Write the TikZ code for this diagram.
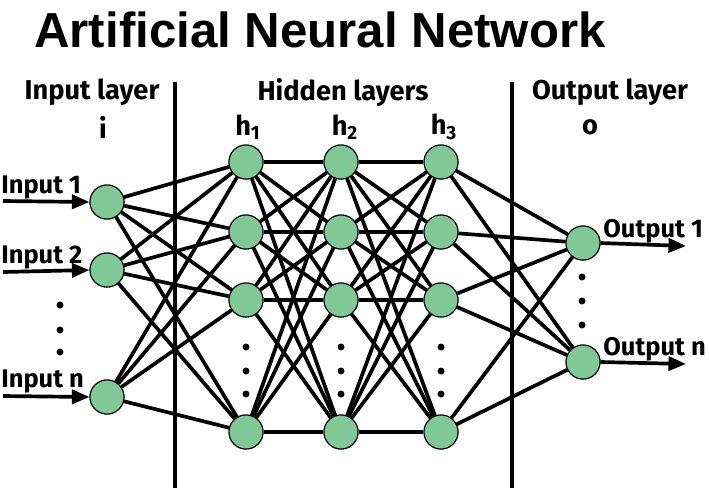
\documentclass[tikz,border=0pt]{standalone}
\usepackage{fontspec}
\setmainfont{Liberation Sans}
\newfontfamily\labelfont{Fira Sans}
\usetikzlibrary{arrows.meta}
\definecolor{neuron}{RGB}{128,201,151}
\begin{document}
\begin{tikzpicture}[x=0.02cm,y=-0.02cm,
  neu/.style={circle,draw=black,line width=0.6pt,fill=neuron,minimum size=34*0.02cm,inner sep=0pt},
  conn/.style={line width=2.1pt},
  sep/.style={line width=2.1pt},
  lab/.style={font=\labelfont\bfseries\fontsize{15.5}{18}\selectfont},
  iolab/.style={font=\labelfont\bfseries\fontsize{14.5}{17}\selectfont},
  dot/.style={circle,fill=black,inner sep=0pt,minimum size=7*0.02cm},
  arr/.style={line width=2.1pt,-{Triangle[length=10pt,width=8pt]}}]
\useasboundingbox (0,0) rectangle (709,488);
% title
\node (title) at (320,30) {\fontsize{28}{32}\selectfont\bfseries Artificial Neural Network};
% separators
\coordinate (s1t) at (175,82); \coordinate (s1b) at (175,488);
\coordinate (s2t) at (512,82); \coordinate (s2b) at (512,488);
\draw[sep] (s1t) -- (s1b);
\draw[sep] (s2t) -- (s2b);
% headers
\node[lab] (hin) at (92,92) {Input layer};
\node[lab] (hhid) at (343,92) {Hidden layers};
\node[lab] (hout) at (610,92) {Output layer};
\node[lab] (li) at (103,127) {i};
\node[lab] (lh1) at (248,127) {h\textsubscript{1}};
\node[lab] (lh2) at (345,127) {h\textsubscript{2}};
\node[lab] (lh3) at (444,127) {h\textsubscript{3}};
\node[lab] (lo) at (590,127) {o};
% input nodes
\node[neu] (i1) at (107,202) {};
\node[neu] (i2) at (107,270) {};
\node[neu] (in) at (107,397) {};
% hidden nodes
\foreach \c/\x in {1/246,2/341,3/441}{
  \node[neu] (h\c a) at (\x,162) {};
  \node[neu] (h\c b) at (\x,232) {};
  \node[neu] (h\c c) at (\x,300) {};
  \node[neu] (h\c d) at (\x,432) {};
  \node[dot] (d\c a) at (\x,347) {};
  \node[dot] (d\c b) at (\x,371) {};
  \node[dot] (d\c c) at (\x,394) {};
}
% output nodes
\node[neu] (o1) at (583,243) {};
\node[neu] (on) at (583,362) {};
% dots
\node[dot] (di1) at (60,305) {};
\node[dot] (di2) at (60,330) {};
\node[dot] (di3) at (60,352) {};
\node[dot] (do1) at (582,277) {};
\node[dot] (do2) at (582,301) {};
\node[dot] (do3) at (582,325) {};
% connections
\foreach \s in {i1,i2,in}{\foreach \t in {a,b,c,d}{\draw[conn] (\s) -- (h1\t);}}
\foreach \s in {a,b,c,d}{\foreach \t in {a,b,c,d}{
  \draw[conn] (h1\s) -- (h2\t);
  \draw[conn] (h2\s) -- (h3\t);}}
\foreach \s in {a,b,c,d}{\foreach \t in {o1,on}{\draw[conn] (h3\s) -- (\t);}}
% redraw nodes on top
\foreach \n in {i1,i2,in,h1a,h1b,h1c,h1d,h2a,h2b,h2c,h2d,h3a,h3b,h3c,h3d,o1,on}{
  \path (\n.center) node[neu] {};
}
% input arrows
\coordinate (a1) at (3,201); \coordinate (a2) at (3,272); \coordinate (a3) at (3,396);
\draw[arr] (a1) -- (i1.west);
\draw[arr] (a2) -- (i2.west);
\draw[arr] (a3) -- (in.west);
\node[iolab,anchor=base west,inner sep=0pt] (t1) at (1,193) {Input 1};
\node[iolab,anchor=base west,inner sep=0pt] (t2) at (1,263) {Input 2};
\node[iolab,anchor=base west,inner sep=0pt] (t3) at (1,387) {Input n};
% output arrows
\coordinate (b1) at (686,246); \coordinate (b2) at (686,364);
\draw[arr] (o1.east) -- (b1);
\draw[arr] (on.east) -- (b2);
\node[iolab,anchor=base west,inner sep=0pt] (u1) at (603,237) {Output 1};
\node[iolab,anchor=base west,inner sep=0pt] (u2) at (603,355) {Output n};
\end{tikzpicture}
\end{document}
